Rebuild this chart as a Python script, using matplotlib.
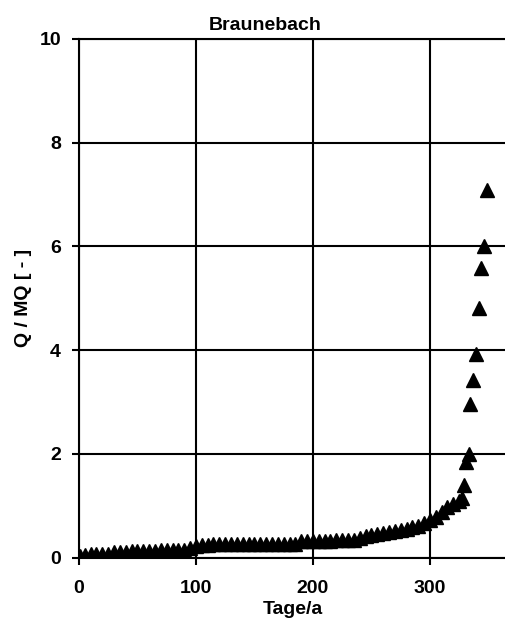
import matplotlib
matplotlib.use("Agg")
import matplotlib.pyplot as plt

plt.rcParams["font.family"] = ["Liberation Sans", "DejaVu Sans"]
plt.rcParams["font.weight"] = "bold"

# flow duration curve, Braunebach (days per year vs. Q/MQ)
days = [1, 5, 10, 15, 20, 25, 30, 35, 40, 45, 50, 55, 60, 65, 70, 75, 80,
        85, 90, 95, 100, 105, 110, 115, 120, 125, 130, 135, 140, 145, 150,
        155, 160, 165, 170, 175, 180, 185, 190, 195, 200, 205, 210, 215,
        220, 225, 230, 235, 240, 245, 250, 255, 260, 265, 270, 275, 280,
        285, 290, 295, 300, 305, 310, 315, 320, 325, 327, 329, 331, 333,
        334, 337, 339, 342, 344, 346, 349]
q_mq = [0.04, 0.06, 0.07, 0.07, 0.08, 0.08, 0.11, 0.11, 0.11, 0.12, 0.12,
        0.12, 0.13, 0.13, 0.14, 0.14, 0.14, 0.15, 0.15, 0.19, 0.22, 0.25,
        0.25, 0.26, 0.26, 0.26, 0.26, 0.26, 0.26, 0.26, 0.26, 0.26, 0.27,
        0.27, 0.27, 0.27, 0.27, 0.27, 0.32, 0.33, 0.33, 0.33, 0.33, 0.33,
        0.34, 0.34, 0.34, 0.34, 0.38, 0.41, 0.43, 0.46, 0.47, 0.49, 0.52,
        0.54, 0.56, 0.59, 0.62, 0.66, 0.72, 0.79, 0.88, 0.97, 1.03, 1.09,
        1.15, 1.40, 1.85, 2.00, 2.96, 3.43, 3.93, 4.82, 5.58, 6.01, 7.09]

x_ticks = [0, 100, 200, 300]
y_ticks = [0, 2, 4, 6, 8, 10]

fig = plt.figure(figsize=(5.06, 6.18), dpi=100)
ax = fig.add_axes([0.156, 0.0976, 0.844, 0.8393])

ax.plot(days, q_mq, linestyle="none", marker="^", markersize=10.5,
        color="black", zorder=3)

ax.set_xlim(0, 365)
ax.set_ylim(0, 10)
ax.set_xticks(x_ticks)
ax.set_yticks(y_ticks)
ax.grid(True, color="black", linewidth=1.5)
ax.set_axisbelow(True)

for side in ["left", "bottom", "top"]:
    ax.spines[side].set_linewidth(1.5)
ax.spines["right"].set_visible(False)

ax.tick_params(direction="out", length=5, width=1.5, labelsize=14)
ax.tick_params(axis="x", pad=11)
ax.tick_params(axis="y", pad=8)

ax.set_xlabel("Tage/a", fontsize=14, fontweight="bold", va="top")
ax.xaxis.set_label_coords(0.5, -0.084)
ax.set_ylabel("Q / MQ [ - ]", fontsize=14, fontweight="bold")
ax.yaxis.set_label_coords(-0.11, 0.5)

fig.text(265 / 506, 1 - 25 / 618, "Braunebach", fontsize=14,
         fontweight="bold", ha="center", va="center")

fig.savefig("out.png", dpi=100)
